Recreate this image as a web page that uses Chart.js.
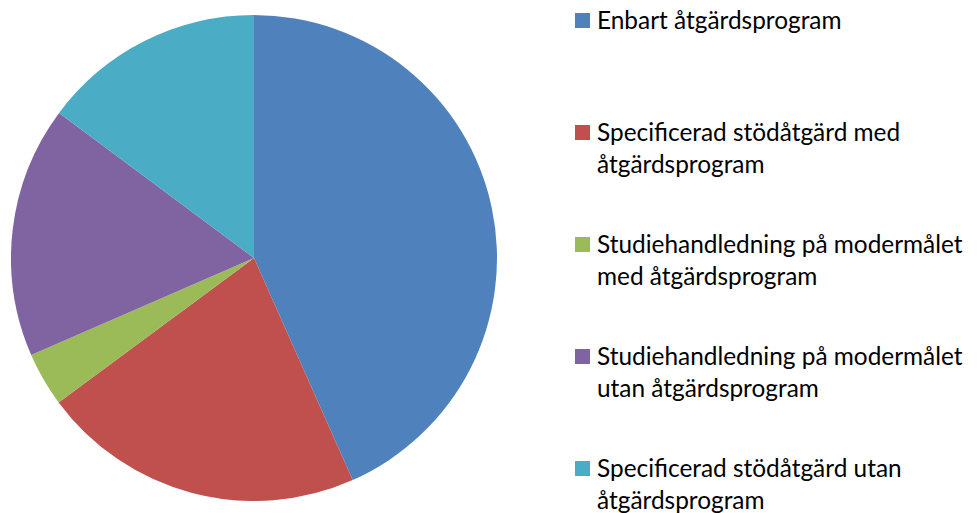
<!DOCTYPE html>
<html>
<head>
<meta charset="utf-8">
<script src="https://cdn.jsdelivr.net/npm/chart.js@4/dist/chart.umd.min.js"></script>
<style>
    body { margin: 0; background: #fff; width: 979px; height: 513px; overflow: hidden; position: relative; }
    #pieWrap { position: absolute; left: 11px; top: 15px; width: 486px; height: 486px; }
    #legend { position: absolute; left: 575px; top: 0; width: 404px; font-family: Lato, "Noto Sans", sans-serif; font-size: 24.4px; color: #000; }
    .item { position: absolute; left: 0; padding-left: 22px; line-height: 32px; white-space: nowrap; }
    .box { position: absolute; left: 0; top: 9px; width: 15px; height: 15px; }
</style>
</head>
<body>
<div id="pieWrap"><canvas id="pieChart"></canvas></div>
<div id="legend"></div>
<script>
// data (share in %)
const categories = [
    'Enbart åtgärdsprogram',
    'Specificerad stödåtgärd med åtgärdsprogram',
    'Studiehandledning på modermålet med åtgärdsprogram',
    'Studiehandledning på modermålet utan åtgärdsprogram',
    'Specificerad stödåtgärd utan åtgärdsprogram'
];
const legendLines = [
    ['Enbart åtgärdsprogram'],
    ['Specificerad stödåtgärd med', 'åtgärdsprogram'],
    ['Studiehandledning på modermålet', 'med åtgärdsprogram'],
    ['Studiehandledning på modermålet', 'utan åtgärdsprogram'],
    ['Specificerad stödåtgärd utan', 'åtgärdsprogram']
];
const shares = [43.3, 21.5, 3.6, 16.7, 14.8];
const colors = ['#4F81BD', '#C0504D', '#9BBB59', '#8064A2', '#4BACC6'];

function buildLegend() {
    const el = document.getElementById('legend');
    categories.forEach((cat, i) => {
        const item = document.createElement('div');
        item.className = 'item';
        item.style.top = (4 + i * 112) + 'px';
        const box = document.createElement('span');
        box.className = 'box';
        box.style.background = colors[i];
        item.appendChild(box);
        legendLines[i].forEach(line => {
            const d = document.createElement('div');
            d.textContent = line;
            item.appendChild(d);
        });
        el.appendChild(item);
    });
}

function drawPie() {
    const ctx = document.getElementById('pieChart').getContext('2d');
    new Chart(ctx, {
        type: 'pie',
        data: {
            labels: categories,
            datasets: [{
                data: shares,
                backgroundColor: colors,
                borderWidth: 0
            }]
        },
        options: {
            responsive: true,
            maintainAspectRatio: false,
            animation: false,
            layout: { padding: 0 },
            plugins: {
                legend: { display: false },
                tooltip: { enabled: false }
            }
        }
    });
}

buildLegend();
drawPie();
</script>
</body>
</html>
